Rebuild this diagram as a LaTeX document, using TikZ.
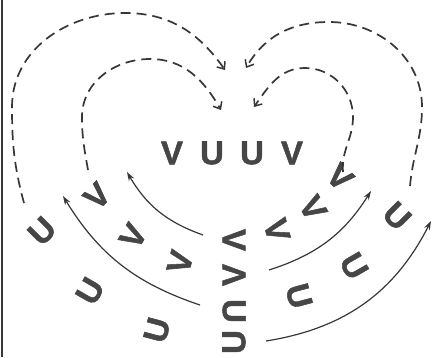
\documentclass[tikz,border=0pt]{standalone}
\usepackage{fontspec}
\setmainfont{Liberation Sans}
\newfontfamily\glyphfont[BoldFeatures={FakeBold=1.6}]{Liberation Sans}
\usetikzlibrary{arrows.meta}
\definecolor{ink}{RGB}{55,55,55}
\definecolor{letter}{RGB}{70,70,70}
\begin{document}
\begin{tikzpicture}[x=1pt,y=1pt,
  glyph/.style={inner sep=0pt, font=\glyphfont\fontsize{33}{33}\selectfont\bfseries, text=letter},
  dsh/.style={draw=ink, line width=1.7pt, dash pattern=on 10pt off 6pt, -{Straight Barb[length=6pt,width=10pt,line width=1.5pt]}},
  sol/.style={draw=ink, line width=1.2pt, -{Stealth[length=9pt,width=6pt]}}]
\useasboundingbox (0,0) rectangle (438,357);
\fill[white] (0,0) rectangle (438,357);
\draw[ink, line width=2pt] (1.5,0) -- (1.5,357);
% top row
\node[glyph] (t1) at (172,204) {V};
\node[glyph] (t2) at (212,204) {U};
\node[glyph] (t3) at (252,204) {U};
\node[glyph] (t4) at (292,204) {V};
% left arm V
\node[glyph,rotate=45] (lv1) at (97,161) {V};
\node[glyph,rotate=60] (lv2) at (133,121) {V};
\node[glyph,rotate=75] (lv3) at (180,95) {V};
% right arm V
\node[glyph,rotate=-45] (rv1) at (340,180) {V};
\node[glyph,rotate=-60] (rv2) at (313,149) {V};
\node[glyph,rotate=-75] (rv3) at (277,127) {V};
% center column
\node[glyph,rotate=-90] (c1) at (234,117) {V};
\node[glyph,rotate=90] (c2) at (234,82) {V};
\node[glyph,rotate=-90] (c3) at (234,46) {U};
\node[glyph,rotate=90] (c4) at (234,15) {U};
% left arm U
\node[glyph,rotate=45] (lu1) at (42,126) {U};
\node[glyph,rotate=60] (lu2) at (90,66) {U};
\node[glyph,rotate=75] (lu3) at (157,27) {U};
% right arm U
\node[glyph,rotate=-45] (ru1) at (397,141) {U};
\node[glyph,rotate=-60] (ru2) at (354,91) {U};
\node[glyph,rotate=-75] (ru3) at (299,61) {U};
% coordinates
\coordinate (ol0) at (24,154); \coordinate (ol1) at (12,250);
\coordinate (ol2) at (125,344); \coordinate (ol3) at (225,287);
\coordinate (il0) at (88,187); \coordinate (il1) at (82,240);
\coordinate (il2) at (150,298); \coordinate (il3) at (221,247);
\coordinate (or0) at (410,171); \coordinate (or1) at (422,250);
\coordinate (or2) at (329,335); \coordinate (or3) at (246,289);
\coordinate (ir0) at (343,185); \coordinate (ir1) at (353,240);
\coordinate (ir2) at (305,289); \coordinate (ir3) at (254,250);
\coordinate (sa0) at (203,122); \coordinate (sa1) at (127,185);
\coordinate (sb0) at (200,52); \coordinate (sb1) at (63,161);
\coordinate (sc0) at (269,87); \coordinate (sc1) at (371,166);
\coordinate (sd0) at (266,16); \coordinate (sd1) at (431,136);
% dashed arrows
\draw[dsh] (ol0) to[out=105,in=-90] (ol1) to[out=90,in=180] (ol2) to[out=0,in=125] (ol3);
\draw[dsh] (il0) to[out=100,in=-90] (il1) to[out=90,in=180] (il2) to[out=0,in=120] (il3);
\draw[dsh] (or0) to[out=85,in=-90] (or1) to[out=90,in=0] (or2) to[out=180,in=60] (or3);
\draw[dsh] (ir0) to[out=95,in=-90] (ir1) to[out=90,in=0] (ir2) to[out=180,in=55] (ir3);
% solid arrows
\draw[sol] (sa0) to[bend left=20] (sa1);
\draw[sol] (sb0) to[bend left=20] (sb1);
\draw[sol] (sc0) to[bend right=20] (sc1);
\draw[sol] (sd0) to[bend right=27] (sd1);
\end{tikzpicture}
\end{document}
